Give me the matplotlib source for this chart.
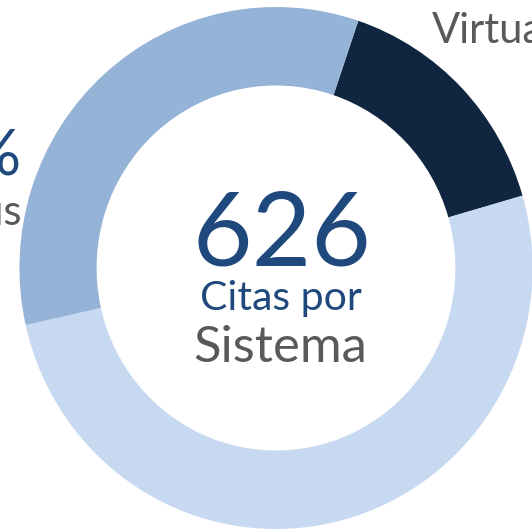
import matplotlib
matplotlib.use("Agg")
import matplotlib.pyplot as plt

plt.rcParams["font.family"] = ["Lato", "DejaVu Sans"]

# citas por sistema (orden horario desde el segmento oscuro)
sistemas = ["Virtual", "Presencial", "Campus"]
citas = [96, 319, 211]
colores = ["#10253f", "#c6d9f1", "#95b3d7"]
total = sum(citas)

W, H = 532, 530
sx = 0.983  # el anillo original está un poco comprimido en horizontal

fig = plt.figure(figsize=(W / 100, H / 100), dpi=100)
ax = fig.add_axes([0, 0, 1, 1])

cx, cy = 276 / sx, H - 268
r_out, r_in = 261, 182.5

ax.pie(citas, colors=colores, center=(cx, cy), radius=r_out,
       startangle=71.3, counterclock=False,
       wedgeprops=dict(width=r_out - r_in, linewidth=0))
ax.set_aspect("auto")
ax.set_xlim(0, W / sx)
ax.set_ylim(0, H)
ax.axis("off")

azul = "#1f497d"
gris = "#595959"

ax.text(282 / sx, H - 265, str(total), ha="center", va="baseline",
        fontsize=74, color=azul)
ax.text(281 / sx, H - 310, "Citas por", ha="center", va="baseline",
        fontsize=29.5, color=azul)
ax.text(280 / sx, H - 362, "Sistema", ha="center", va="baseline",
        fontsize=36.5, color=gris)

# etiquetas exteriores (recortadas por el borde)
ax.text(432 / sx, H - 43, sistemas[0], ha="left", va="baseline",
        fontsize=30, color=gris)
pct = round(100 * citas[2] / total)
ax.text(21 / sx, H - 175, f"{pct}%", ha="right", va="baseline",
        fontsize=46, color=azul)
ax.text(21 / sx, H - 225, sistemas[2], ha="right", va="baseline",
        fontsize=30, color=gris)

fig.savefig("out.png", dpi=100)
